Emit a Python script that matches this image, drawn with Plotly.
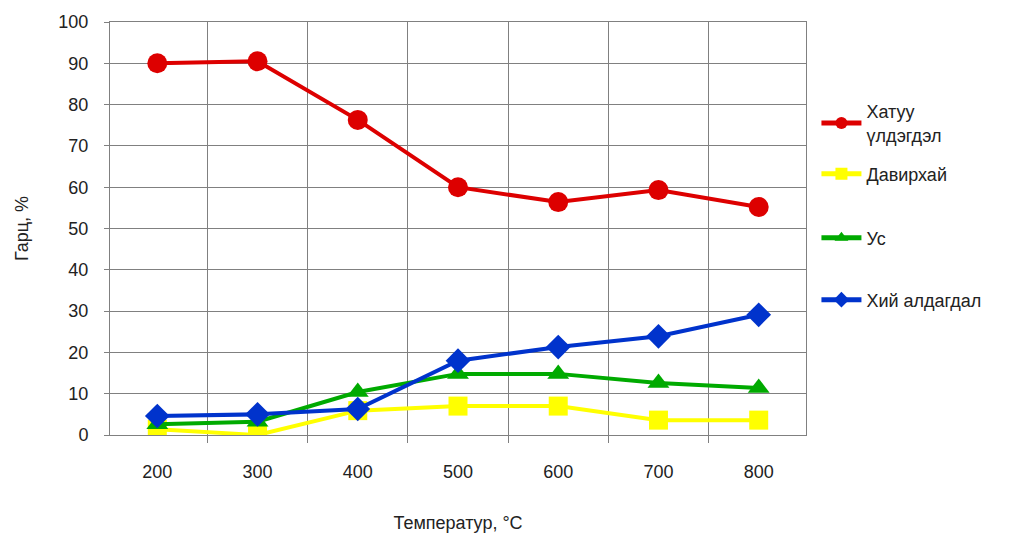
import plotly.graph_objects as go

# Temperature categories (°C)
temperatures = ["200", "300", "400", "500", "600", "700", "800"]

# Product yields, %
solid_residue = [90.0, 90.5, 76.3, 60.0, 56.4, 59.3, 55.2]
tar = [1.4, 0.0, 5.9, 7.0, 7.0, 3.6, 3.6]
water = [2.6, 3.2, 10.4, 14.8, 14.8, 12.6, 11.4]
gas_loss = [4.6, 5.0, 6.3, 18.0, 21.3, 23.9, 29.1]

series = [
    ("Хатуу<br>үлдэгдэл", solid_residue, "#DD0000", "circle", 20),
    ("Давирхай", tar, "#FFFF00", "square", 19),
    ("Ус", water, "#00AA00", "triangle-up", 19),
    ("Хий алдагдал", gas_loss, "#0033CC", "diamond", 19),
]

# vertical centre (paper units) of each legend entry
legend_y = [0.755, 0.632, 0.477, 0.327]
legend_ids = ["legend", "legend2", "legend3", "legend4"]

font_family = "Liberation Sans, Arial, sans-serif"
text_color = "#222222"

fig = go.Figure()
for (name, values, color, symbol, size), lid in zip(series, legend_ids):
    fig.add_trace(go.Scatter(
        x=temperatures,
        y=values,
        name=name,
        mode="lines+markers",
        line=dict(color=color, width=4),
        marker=dict(color=color, symbol=symbol, size=size),
        legend=lid,
    ))

legend_common = dict(
    x=1.015, xanchor="left", yanchor="middle",
    font=dict(size=18, color=text_color),
    itemsizing="constant",
    itemwidth=40,
    bgcolor="rgba(0,0,0,0)",
)

grid_color = "#808080"

layout_legends = {lid: dict(y=y, **legend_common) for lid, y in zip(legend_ids, legend_y)}

fig.update_layout(
    width=1011,
    height=537,
    paper_bgcolor="white",
    plot_bgcolor="white",
    margin=dict(l=110, r=205, t=22, b=102),
    font=dict(family=font_family, size=18, color=text_color),
    showlegend=True,
    xaxis=dict(
        type="category",
        tickson="boundaries",
        ticks="outside", ticklen=7, tickcolor=grid_color,
        ticklabelstandoff=20,
        showgrid=True, gridcolor=grid_color, gridwidth=1,
        showline=True, linecolor=grid_color, linewidth=1, mirror=True,
        title=dict(text="Температур, °С", standoff=35, font=dict(size=18)),
        tickfont=dict(size=18),
        automargin=False,
    ),
    yaxis=dict(
        range=[0, 100], dtick=10,
        ticks="outside", ticklen=5, tickcolor=grid_color,
        ticklabelstandoff=12,
        showgrid=True, gridcolor=grid_color, gridwidth=1,
        zeroline=False,
        showline=True, linecolor=grid_color, linewidth=1, mirror=True,
        title=dict(text="Гарц, %", standoff=25, font=dict(size=18)),
        tickfont=dict(size=18),
        automargin=False,
    ),
    **layout_legends,
)

fig.write_html("out.html")
